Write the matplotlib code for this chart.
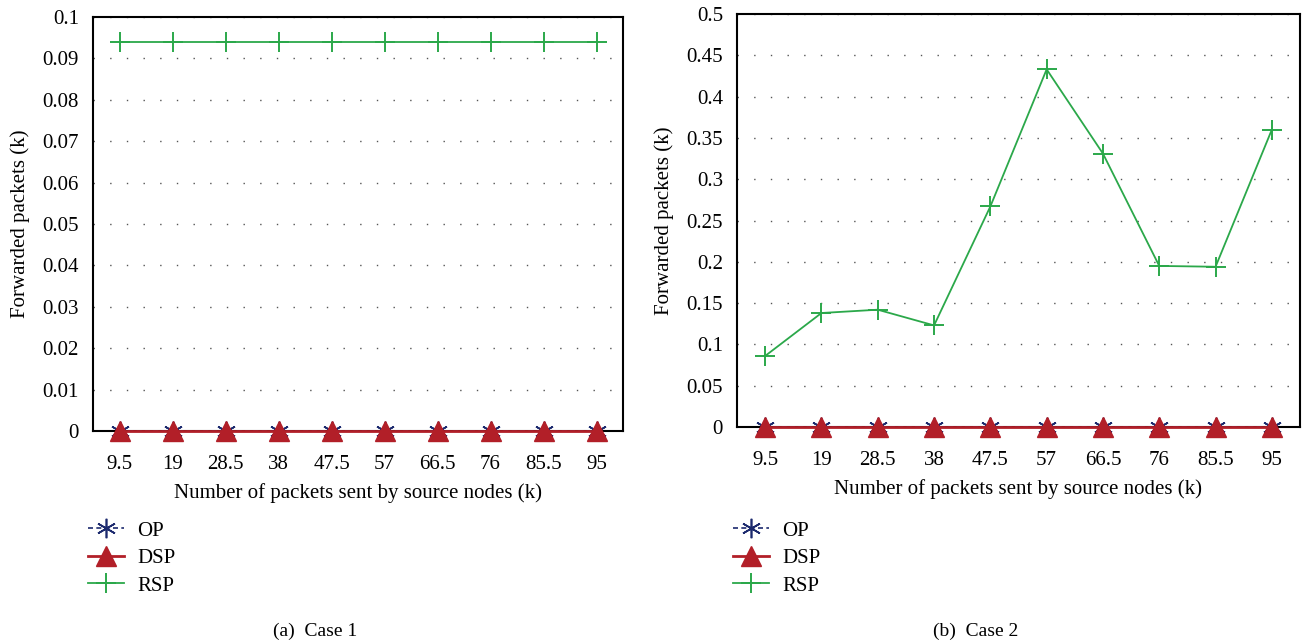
# forwarded_packets.py
# Forwarded packets vs packets sent by source nodes, two cases side by side

import numpy as np
import matplotlib.pyplot as plt
from matplotlib.lines import Line2D
from matplotlib.ticker import FormatStrFormatter

plt.rcParams["font.family"] = ["Liberation Serif", "DejaVu Serif"]

SENT = ["9.5", "19", "28.5", "38", "47.5", "57", "66.5", "76", "85.5", "95"]

# case 1
OP_1 = [0, 0, 0, 0, 0, 0, 0, 0, 0, 0]
DSP_1 = [0, 0, 0, 0, 0, 0, 0, 0, 0, 0]
RSP_1 = [0.094, 0.094, 0.094, 0.094, 0.094, 0.094, 0.094, 0.094, 0.094, 0.094]

# case 2
OP_2 = [0, 0, 0, 0, 0, 0, 0, 0, 0, 0]
DSP_2 = [0, 0, 0, 0, 0, 0, 0, 0, 0, 0]
RSP_2 = [0.086, 0.138, 0.142, 0.123, 0.267, 0.433, 0.331, 0.195, 0.194, 0.36]

C_OP = "#1c2a6e"
C_DSP = "#b21f28"
C_RSP = "#2ba84a"
FS = 15

W, H = 1304, 644


def px_axes(fig, left, top, right, bottom):
    return fig.add_axes([left / W, 1 - bottom / H, (right - left) / W, (bottom - top) / H])


def draw_panel(ax, op, dsp, rsp, ymax, ystep):
    x = np.arange(len(SENT))
    ax.plot(x, op, color=C_OP, ls=(0, (3, 2)), lw=1.2, marker=(6, 2, 0),
            ms=14, mew=1.2, zorder=3, clip_on=False)
    ax.plot(x, dsp, color=C_DSP, lw=2, marker="^", ms=15, zorder=4, clip_on=False)
    ax.plot(x, rsp, color=C_RSP, lw=1.3, marker="+", ms=15, mew=1.4, zorder=5,
            clip_on=False)

    ax.set_xlim(-0.5, 9.5)
    ax.set_ylim(0, ymax)
    ax.set_xticks(x)
    ax.set_xticklabels(SENT)
    ax.set_yticks(np.arange(0, ymax + ystep / 2, ystep))
    ax.yaxis.set_major_formatter(FormatStrFormatter("%g"))
    ax.tick_params(axis="x", length=0, labelsize=FS, pad=17)
    ax.tick_params(axis="y", length=0, labelsize=FS, pad=10)
    ax.grid(axis="y", color="#555555", ls=(0, (1, 11)), lw=1.0)
    for s in ax.spines.values():
        s.set_linewidth(1.5)
        s.set_color("black")
    ax.set_xlabel("Number of packets sent by source nodes (k)", fontsize=FS, labelpad=7)
    ax.set_ylabel("Forwarded packets (k)", fontsize=FS, labelpad=9)


def legend_handles():
    return [
        Line2D([], [], color=C_OP, ls=(0, (3, 2)), lw=1.2, marker=(6, 2, 0), ms=14, mew=1.2),
        Line2D([], [], color=C_DSP, lw=2, marker="^", ms=15),
        Line2D([], [], color=C_RSP, lw=1.3, marker="+", ms=15, mew=1.4),
    ]


fig = plt.figure(figsize=(W / 100, H / 100), dpi=100)

ax1 = px_axes(fig, 93, 17, 623, 431)
draw_panel(ax1, OP_1, DSP_1, RSP_1, 0.1, 0.01)
ax2 = px_axes(fig, 737, 14, 1300, 427)
draw_panel(ax2, OP_2, DSP_2, RSP_2, 0.5, 0.05)

for lx in (88, 733):
    fig.legend(legend_handles(), ["OP", "DSP", "RSP"], loc="upper left",
               bbox_to_anchor=(lx / W, 1 - 521 / H), frameon=False, fontsize=FS,
               handlelength=1.75, handletextpad=0.6, labelspacing=0.38, borderpad=0,
               borderaxespad=0)

fig.text(315 / W, 1 - 631 / H, "(a)  Case 1", ha="center", va="center", fontsize=14)
fig.text(976 / W, 1 - 631 / H, "(b)  Case 2", ha="center", va="center", fontsize=14)

fig.savefig("out.png", dpi=100)
